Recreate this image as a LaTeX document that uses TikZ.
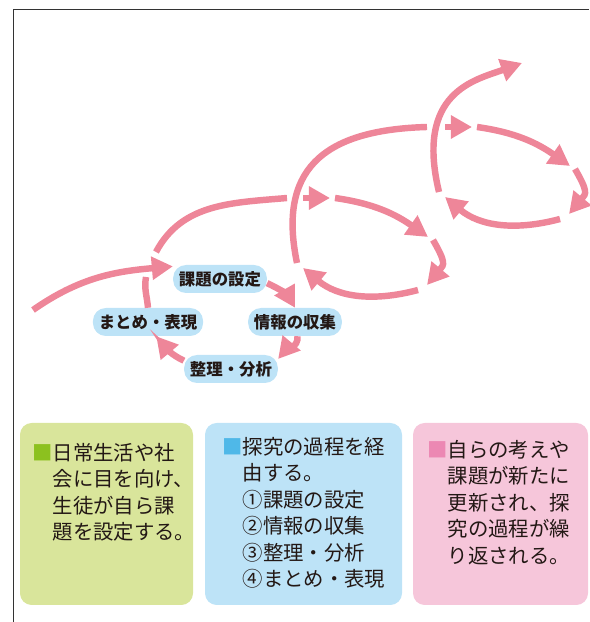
\documentclass[tikz,border=0pt]{standalone}
\usepackage{fontspec}
\setmainfont{Noto Sans CJK JP}
\usetikzlibrary{arrows.meta}

\definecolor{flowpink}{HTML}{EE8699}
\definecolor{stageblue}{HTML}{BDE3F7}
\definecolor{boxgreen}{HTML}{D9E59B}
\definecolor{boxpink}{HTML}{F6C6DA}
\definecolor{markgreen}{HTML}{8CC11F}
\definecolor{markblue}{HTML}{4FB8E8}
\definecolor{markpink}{HTML}{EC88B3}
\definecolor{inkcol}{HTML}{231815}
\definecolor{framegray}{HTML}{333333}

\begin{document}
\begin{tikzpicture}[
	x=0.03cm, y=0.03cm,
	stage/.style={
		fill=stageblue, rounded corners=11pt, text=inkcol,
		minimum height=0.84cm, inner xsep=5pt, inner ysep=0pt,
		font=\fontsize{14}{16}\selectfont\bfseries
	},
	flow/.style={draw=flowpink, line width=5.5pt, -{Triangle[length=18pt, width=19pt]}},
	trail/.style={draw=flowpink, line width=5.5pt},
	panel/.style={rounded corners=10pt},
	note/.style={anchor=north west, inner sep=0pt, align=left, text=inkcol,
		font=\fontsize{17.4}{22.6}\selectfont},
	]
	\useasboundingbox (0,0) rectangle (589,622);
	\draw[line width=1.4pt, framegray] (13.5,0) -- (13.5,612.5) -- (589,612.5);
	
	% first cycle
	\node[stage] (task)    at (220,343) {課題の設定};
	\node[stage] (collect) at (295,300) {情報の収集};
	\node[stage] (analyze) at (231,253) {整理・分析};
	\node[stage] (present) at (148,300) {まとめ・表現};
	
	\coordinate (entry)  at (33,312);
	\coordinate (rise1)  at (146,345);
	\coordinate (arc1)   at (156,370);
	\coordinate (cross1) at (287,424);
	
	\draw[flow] (entry) to[out=35, in=185] (task.165);
	\draw[flow] (task.-5) to[out=-25, in=120] (collect.north);
	\draw[flow] (collect.-80) to[out=-85, in=50] (analyze.12);
	\draw[flow] (analyze.170) to[out=155, in=-50] (present.-60);
	\draw[trail] (present.north) to[out=95, in=-100] (rise1);
	\draw[trail] (arc1) to[out=62, in=185] (cross1);
	
	% second cycle
	\coordinate (in2)    at (303,424);
	\coordinate (tip2)   at (330,424);
	\coordinate (out2)   at (335,424);
	\coordinate (turn2)  at (428,385);
	\coordinate (down2)  at (433,382);
	\coordinate (low2)   at (427,337);
	\coordinate (back2)  at (418,332);
	\coordinate (ret2)   at (303,354);
	\coordinate (arc2)   at (297,359);
	\coordinate (cross2) at (427,495);
	
	\draw[flow] (in2) -- (tip2);
	\draw[flow] (out2) to[out=-8, in=145] (turn2);
	\draw[flow] (down2) to[out=-60, in=50, looseness=1.5] (low2);
	\draw[flow] (back2) to[out=195, in=-40] (ret2);
	\draw[trail] (arc2) .. controls +(-19,91) and +(-107,-3) .. (cross2);
	
	% third cycle
	\coordinate (in3)   at (445,495);
	\coordinate (tip3)  at (472,495);
	\coordinate (out3)  at (477,495);
	\coordinate (turn3) at (570,456);
	\coordinate (down3) at (575,453);
	\coordinate (low3)  at (569,408);
	\coordinate (back3) at (560,403);
	\coordinate (ret3)  at (445,425);
	\coordinate (arc3)  at (439,430);
	\coordinate (exit)  at (522,559);
	
	\draw[flow] (in3) -- (tip3);
	\draw[flow] (out3) to[out=-8, in=145] (turn3);
	\draw[flow] (down3) to[out=-60, in=50, looseness=1.5] (low3);
	\draw[flow] (back3) to[out=195, in=-40] (ret3);
	\draw[flow] (arc3) .. controls +(-24,100) and +(-47,-17) .. (exit);
	
	% notes
	\fill[panel, boxgreen]  (20,17)  rectangle (193,199);
	\fill[panel, stageblue] (205,17) rectangle (402,199);
	\fill[panel, boxpink]   (413,17) rectangle (588,199);
	
	\node[note] (goaltext) at (32,179) {\textcolor{markgreen}{■}日常生活や社\\
		\hspace*{1em}会に目を向け、\\
		\hspace*{1em}生徒が自ら課\\
		\hspace*{1em}題を設定する。};
	\node[note] (steptext) at (222,185) {\textcolor{markblue}{■}探究の過程を経\\
		\hspace*{1em}由する。\\
		\hspace*{1em}①課題の設定\\
		\hspace*{1em}②情報の収集\\
		\hspace*{1em}③整理・分析\\
		\hspace*{1em}④まとめ・表現};
	\node[note] (looptext) at (427,182) {\textcolor{markpink}{■}自らの考えや\\
		\hspace*{1em}課題が新たに\\
		\hspace*{1em}更新され、探\\
		\hspace*{1em}究の過程が繰\\
		\hspace*{1em}り返される。};
	
\end{tikzpicture}
\end{document}
